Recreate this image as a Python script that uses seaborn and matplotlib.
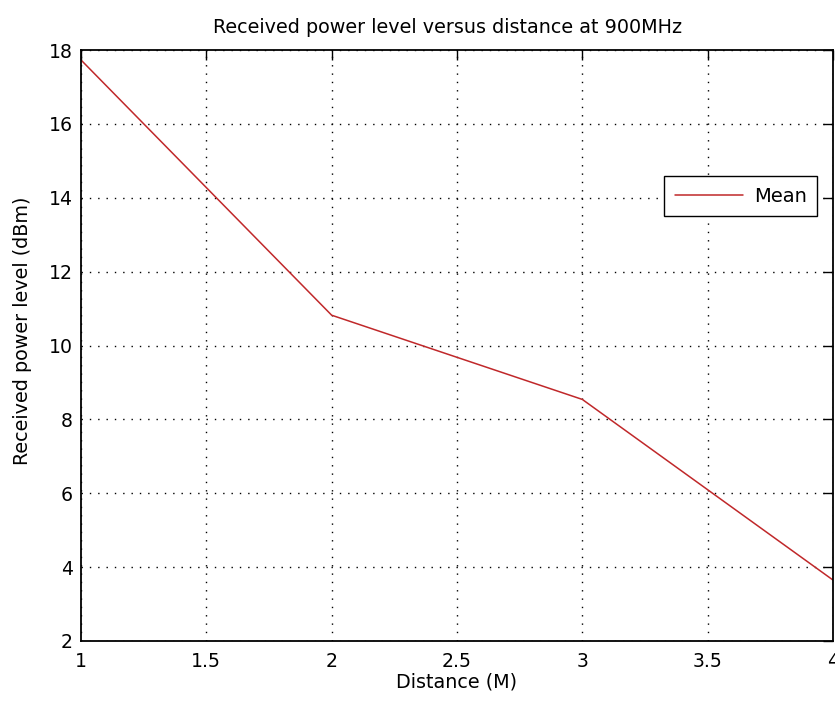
import matplotlib
matplotlib.use("Agg")
import matplotlib.pyplot as plt
import seaborn as sns
import pandas as pd

distance = [1, 2, 3, 4]
power_mean = [17.73, 10.82, 8.54, 3.65]
series_name = "Mean"
title = "Received power level versus distance at 900MHz"
xlabel = "Distance (M)"
ylabel = "Received power level (dBm)"
xticks = [1, 1.5, 2, 2.5, 3, 3.5, 4]
xticklabels = ["1", "1.5", "2", "2.5", "3", "3.5", "4"]
yticks = [2, 4, 6, 8, 10, 12, 14, 16, 18]

sns.set_style("white")
plt.rcParams['font.family'] = ['DejaVu Sans']
plt.rcParams['text.color'] = 'black'
plt.rcParams['axes.labelcolor'] = 'black'

df = pd.DataFrame({"Distance": distance, "Power": power_mean, "Series": series_name})

fig = plt.figure(figsize=(8.35, 7.02), dpi=100)
ax = fig.add_axes([81/835, 61/702, 752/835, 591/702])

sns.lineplot(data=df, x="Distance", y="Power", hue="Series", palette=["#c0282a"],
             linewidth=1.1, ax=ax)

ax.set_xlim(1, 4)
ax.set_ylim(2, 18)
ax.set_xticks(xticks)
ax.set_xticklabels(xticklabels)
ax.set_yticks(yticks)
ax.grid(True, linestyle=(0, (1, 5)), color="black", linewidth=1.0)
ax.tick_params(direction="in", length=7, width=1, colors="black", labelsize=13.6,
               top=True, right=True)
ax.tick_params(axis="x", pad=8)
ax.tick_params(axis="y", pad=6)
for s in ax.spines.values():
    s.set_visible(True)
    s.set_color("black")
    s.set_linewidth(1.3)

ax.set_title(title, fontsize=13.8, pad=12, x=0.487, color="black")
ax.set_xlabel(xlabel, fontsize=13.8, labelpad=1)
ax.set_ylabel(ylabel, fontsize=13.8)
ax.yaxis.set_label_coords(-0.065, 0.525)

leg = ax.legend(loc="upper right", bbox_to_anchor=(0.979, 0.787), borderaxespad=0,
                fancybox=False, edgecolor="black", framealpha=1, fontsize=14,
                handlelength=3.5, borderpad=0.55, handletextpad=0.55)
leg.get_frame().set_linewidth(1.0)
for t in leg.get_texts():
    t.set_color("black")

fig.savefig("out.png", dpi=100)
